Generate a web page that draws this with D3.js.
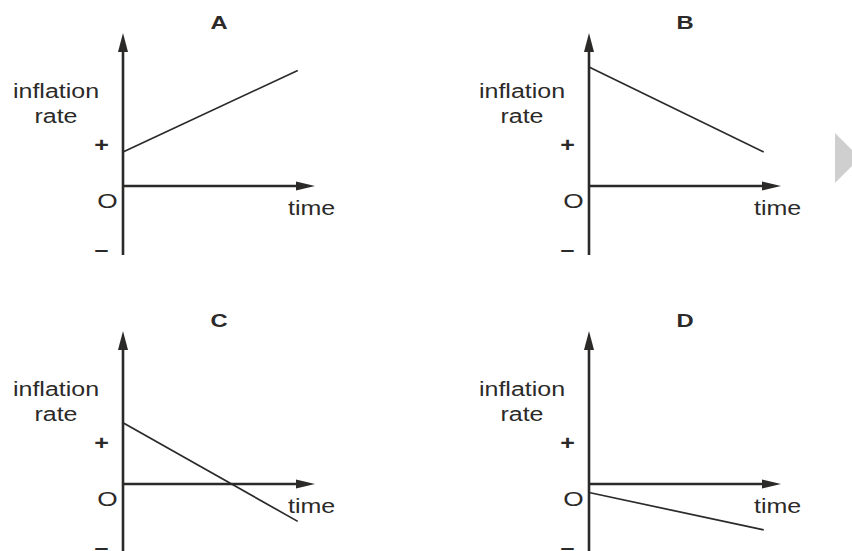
<!DOCTYPE html>
<html>
<head>
<meta charset="utf-8">
<script src="https://cdn.jsdelivr.net/npm/d3@7"></script>
<style>
  body { margin: 0; background: #fff; }
  svg { display: block; font-family: "Liberation Sans", Arial, sans-serif; }
</style>
</head>
<body>
<svg width="852" height="551"></svg>
<script>
// panel letters and the two ends of each line (time, inflation rate)
var panels = ["A", "B", "C", "D"];
var startTime = [0, 0, 0, 0];
var endTime = [9.1, 9.1, 9.1, 9.1];
var startRate = [1.0, 3.5, 1.8, -0.25];
var endRate = [3.4, 1.0, -1.1, -1.35];
var signLabels = ["+", "O", "\u2013"];
var signValues = [1.2, -0.45, -1.85];

var svg = d3.select("svg");
var ink = "#2b2a29";
var stretch = 1.25;

// shared scales: time 0..10 along the x axis, rate -2..4.5 up the y axis
var x = d3.scaleLinear().domain([0, 10]).range([0, 192]);
var y = d3.scaleLinear().domain([-2.03, 4.5]).range([69, -153]);

var origins = [[123, 186], [589, 186], [123, 484], [589, 484]];

var line = d3.line()
    .x(function(d) { return x(d.t); })
    .y(function(d) { return y(d.r); });

function stretchedText(g, txt, px, py, size, weight) {
    return g.append("text")
        .attr("transform", "translate(" + px + "," + py + ") scale(" + stretch + ",1)")
        .attr("text-anchor", "middle")
        .attr("font-size", size)
        .attr("font-weight", weight || "normal")
        .attr("fill", ink)
        .text(txt);
}

panels.forEach(function(name, i) {
    var g = svg.append("g")
        .attr("transform", "translate(" + origins[i][0] + "," + origins[i][1] + ")");

    // y axis with arrow head
    g.append("line")
        .attr("x1", 0).attr("x2", 0)
        .attr("y1", y(-2.03)).attr("y2", y(4.0))
        .attr("stroke", ink).attr("stroke-width", 2.6);
    g.append("path")
        .attr("d", "M0," + y(4.5) + "L-5," + (y(4.5) + 19) + "L5," + (y(4.5) + 19) + "Z")
        .attr("fill", ink);

    // x axis with arrow head
    g.append("line")
        .attr("x1", 0).attr("x2", x(9.2))
        .attr("y1", 0).attr("y2", 0)
        .attr("stroke", ink).attr("stroke-width", 2.6);
    g.append("path")
        .attr("d", "M" + x(10) + ",0L" + (x(10) - 19) + ",-4.5L" + (x(10) - 19) + ",4.5Z")
        .attr("fill", ink);

    // the inflation line
    g.append("path")
        .datum([{t: startTime[i], r: startRate[i]}, {t: endTime[i], r: endRate[i]}])
        .attr("fill", "none")
        .attr("stroke", ink)
        .attr("stroke-width", 1.7)
        .attr("d", line);

    // labels
    stretchedText(g, name, 96, -157, 19, "bold");
    stretchedText(g, "inflation", -67, -88, 20);
    stretchedText(g, "rate", -67, -63, 20);
    stretchedText(g, "time", x(9.3) + 10, 29, 20);

    signLabels.forEach(function(s, k) {
        var dx = s === "O" ? -15.5 : -21.5;
        stretchedText(g, s, dx, y(signValues[k]) + 7, s === "O" ? 21 : 20, s === "O" ? "normal" : "bold");
    });
});

// grey page-turn arrow at the right edge
svg.append("path")
    .attr("d", "M835,133L860,158L835,183Z")
    .attr("fill", "#cfcfcf");
</script>
</body>
</html>
